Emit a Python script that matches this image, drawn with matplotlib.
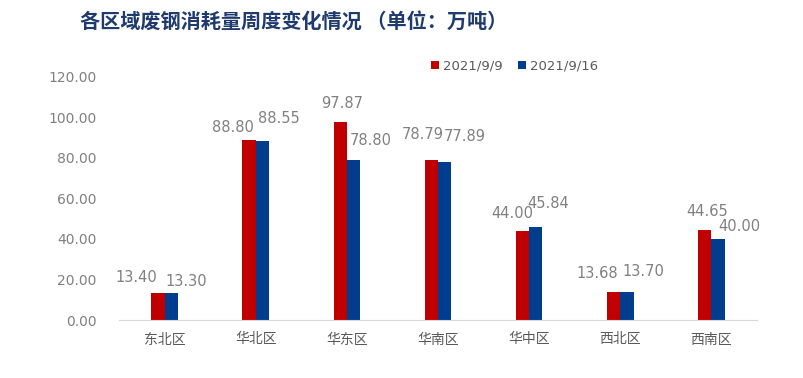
import numpy as np
import matplotlib.pyplot as plt

plt.rcParams['font.family'] = ['DejaVu Sans', 'Noto Sans CJK SC']

# данные
regions = ['东北区', '华北区', '华东区', '华南区', '华中区', '西北区', '西南区']
week1 = [13.40, 88.80, 97.87, 78.79, 44.00, 13.68, 44.65]
week2 = [13.30, 88.55, 78.80, 77.89, 45.84, 13.70, 40.00]
labels = ['2021/9/9', '2021/9/16']

# сдвиги подписей (пиксели), как на картинке
red_dx = [-21.5, -16.5, 1.5, -9, -10, -16, 2]
red_dy = [15.8, 12.2, 18.2, 25.5, 17.8, 19.2, 17.6]
blue_dx = [15.5, 17, 17, 20, 12, 16, 21]
blue_dy = [11.1, 22.3, 20.3, 25.7, 23.3, 20.3, 12.2]

red = '#C00000'
blue = '#003D8F'
gray = '#808080'
cjk = ['Noto Sans CJK SC', 'DejaVu Sans']

fig = plt.figure(figsize=(8.04, 3.78), dpi=100)
ax = fig.add_axes([119/804, 1 - 320/378, 638/804, 243/378])

x = np.arange(len(regions))
w = 0.145
ax.bar(x - w/2, week1, w, color=red, label=labels[0])
ax.bar(x + w/2, week2, w, color=blue, label=labels[1])

px = 0.72  # px -> pt
for i in range(len(regions)):
    ax.annotate(f'{week1[i]:.2f}', (x[i] - w/2, week1[i]),
                xytext=(red_dx[i]*px, red_dy[i]*px), textcoords='offset points',
                ha='center', va='center', fontsize=10.5, color=gray)
    ax.annotate(f'{week2[i]:.2f}', (x[i] + w/2, week2[i]),
                xytext=(blue_dx[i]*px, blue_dy[i]*px), textcoords='offset points',
                ha='center', va='center', fontsize=10.5, color=gray)

ax.set_xlim(-0.5, len(regions) - 0.5)
ax.set_ylim(0, 120)
ax.set_yticks(np.arange(0, 121, 20))
ax.set_yticklabels([f'{v:.2f}' for v in np.arange(0, 121, 20)], fontsize=10, color=gray)
ax.set_xticks(x)
ax.set_xticklabels(regions, family=cjk, fontsize=10, color='#595959')
ax.tick_params(axis='both', length=0)
ax.tick_params(axis='y', pad=16)
ax.tick_params(axis='x', pad=9)

for s in ['top', 'right', 'left']:
    ax.spines[s].set_visible(False)
ax.spines['bottom'].set_color('#D9D9D9')

ax.legend(ncol=2, loc='center', bbox_to_anchor=(0.62, 1.045), frameon=False,
          handlelength=0.6, handleheight=0.6, handletextpad=0.3, columnspacing=1.2,
          fontsize=9.5, labelcolor='#595959')

fig.text(80/804, 1 - 22/378, '各区域废钢消耗量周度变化情况 （单位：万吨）',
         family=cjk, fontsize=14.5, fontweight='bold', color='#1F3B6E',
         ha='left', va='center')

plt.savefig('out.png', dpi=100)
